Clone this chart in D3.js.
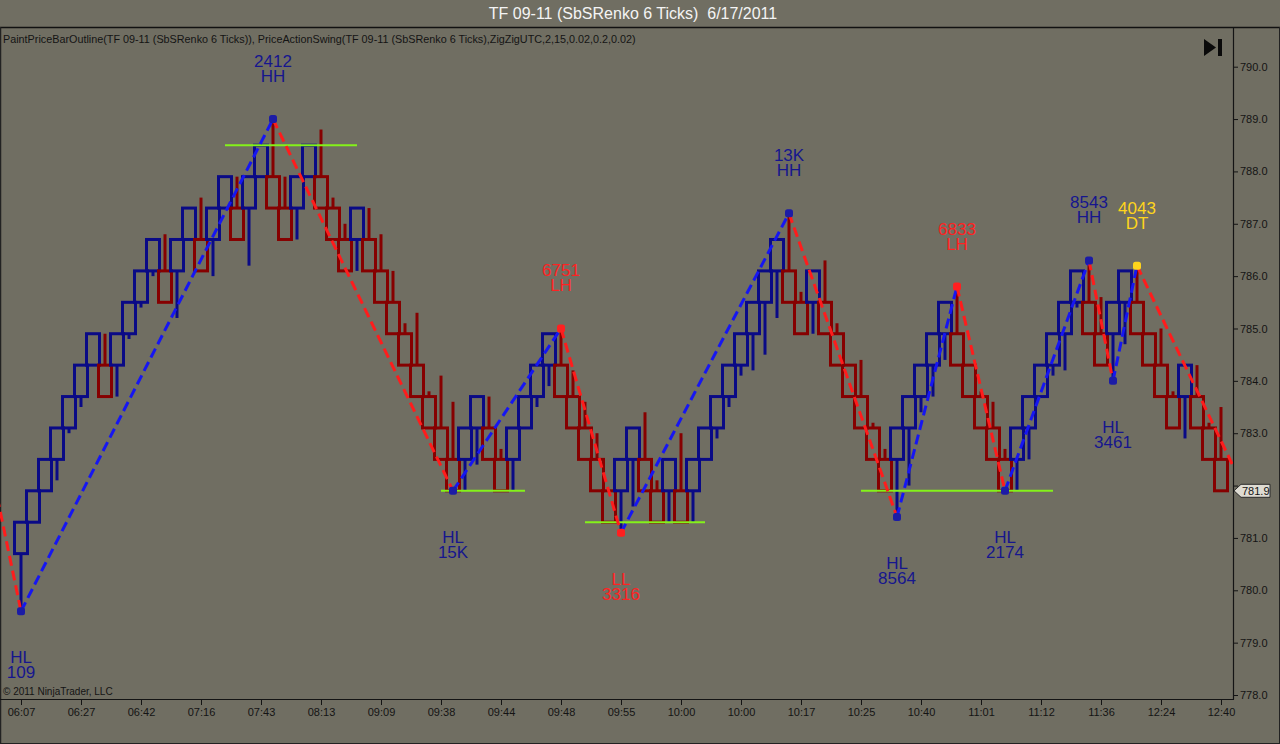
<!DOCTYPE html>
<html lang="en">
<head>
  <meta charset="UTF-8">
  <title>TF 09-11 (SbSRenko 6 Ticks)</title>
  <style>
    body {
      margin: 0;
      padding: 0;
      overflow: hidden;
      background: #706e62;
    }

    svg text {
      font-family: "Liberation Sans", Arial, sans-serif;
    }

    .axis text {
      font-size: 11px;
      fill: #141414;
    }

    .axis line {
      stroke: #141414;
    }

    .swing-label {
      font-size: 17px;
      text-anchor: middle;
    }
  </style>
</head>
<body>
  <svg id="chart"></svg>

  <script src="https://d3js.org/d3.v7.min.js"></script>
  <script>
    // time label every 5th bar
    const timeLabels = ["06:07", "06:27", "06:42", "07:16", "07:43", "08:13", "09:09", "09:38", "09:44", "09:48",
      "09:55", "10:00", "10:00", "10:17", "10:25", "10:40", "11:01", "11:12", "11:36", "12:24", "12:40"];

    // renko bars, one entry per bar (0..100)
    const opens = [
      780.7, 781.3, 781.9, 782.5, 783.1, 783.7, 784.3, 784.3, 784.3, 784.9,
      785.5, 786.1, 786.1, 786.1, 786.7, 786.7, 786.7, 787.3, 787.3, 787.3,
      787.9, 787.9, 787.3, 787.3, 787.9, 787.9, 787.3, 786.7, 786.7, 786.7,
      786.1, 785.5, 784.9, 784.3, 783.7, 783.1, 782.5, 782.5, 783.1, 783.1,
      782.5, 782.5, 783.1, 783.7, 784.3, 784.3, 783.7, 783.1, 782.5, 781.9,
      781.9, 782.5, 782.5, 781.9, 781.9, 781.9, 781.9, 782.5, 783.1, 783.7,
      784.3, 784.9, 785.5, 786.1, 786.1, 785.5, 785.5, 785.5, 784.9, 784.3,
      783.7, 783.1, 782.5, 782.5, 783.1, 783.7, 784.3, 784.9, 784.9, 784.3,
      783.7, 783.1, 782.5, 782.5, 783.1, 783.7, 784.3, 784.9, 785.5, 785.5,
      784.9, 784.9, 785.5, 785.5, 784.9, 784.3, 783.7, 783.7, 783.7, 783.1,
      782.5];
    const closes = [
      781.3, 781.9, 782.5, 783.1, 783.7, 784.3, 784.9, 783.7, 784.9, 785.5,
      786.1, 786.7, 785.5, 786.7, 787.3, 786.1, 787.3, 787.9, 786.7, 787.9,
      788.5, 787.3, 786.7, 787.9, 788.5, 787.3, 786.7, 786.1, 787.3, 786.1,
      785.5, 784.9, 784.3, 783.7, 783.1, 782.5, 781.9, 783.1, 783.7, 782.5,
      781.9, 783.1, 783.7, 784.3, 784.9, 783.7, 783.1, 782.5, 781.9, 781.3,
      782.5, 783.1, 781.9, 781.3, 782.5, 781.3, 782.5, 783.1, 783.7, 784.3,
      784.9, 785.5, 786.1, 786.7, 785.5, 784.9, 786.1, 784.9, 784.3, 783.7,
      783.1, 782.5, 781.9, 783.1, 783.7, 784.3, 784.9, 785.5, 784.3, 783.7,
      783.1, 782.5, 781.9, 783.1, 783.7, 784.3, 784.9, 785.5, 786.1, 784.9,
      784.3, 785.5, 786.1, 784.9, 784.3, 783.7, 783.1, 784.3, 783.1, 782.5,
      781.9];
    const highs = [
      781.3, 781.9, 782.5, 783.1, 783.7, 784.3, 784.9, 784.9, 784.9, 785.5,
      786.1, 786.7, 786.8, 786.7, 787.3, 787.5, 787.3, 787.9, 787.9, 787.9,
      788.5, 789.0, 787.9, 787.9, 788.5, 788.8, 787.5, 787.0, 787.3, 787.3,
      786.8, 786.1, 785.1, 785.3, 783.8, 784.1, 783.6, 783.1, 783.7, 783.7,
      782.7, 783.1, 783.7, 784.3, 784.9, 785.0, 784.2, 783.6, 783.0, 781.9,
      782.5, 783.1, 783.4, 782.1, 782.5, 783.0, 782.5, 783.1, 783.7, 784.3,
      784.9, 785.5, 786.1, 786.7, 787.2, 785.7, 786.1, 786.3, 785.1, 784.3,
      784.4, 783.2, 782.7, 783.1, 783.7, 784.3, 784.9, 785.5, 785.8, 784.3,
      783.8, 783.6, 782.7, 783.1, 783.7, 784.3, 784.9, 785.5, 786.1, 786.3,
      785.6, 785.5, 786.1, 786.2, 784.9, 785.0, 783.8, 784.3, 784.3, 783.2,
      783.5];
    const lows = [
      779.6, 781.3, 781.9, 782.1, 783.0, 783.5, 784.3, 783.7, 783.7, 784.8,
      785.4, 786.0, 785.5, 785.2, 786.7, 786.1, 786.0, 787.3, 786.7, 786.2,
      787.9, 787.3, 786.7, 786.7, 787.9, 787.3, 786.7, 786.1, 786.1, 786.1,
      785.5, 784.9, 784.3, 783.7, 783.1, 782.5, 781.9, 781.9, 782.4, 782.5,
      781.9, 781.9, 783.1, 783.5, 783.9, 783.7, 783.1, 782.5, 781.9, 781.3,
      781.1, 781.6, 781.9, 781.3, 781.3, 781.3, 781.3, 782.5, 782.9, 783.5,
      784.1, 784.2, 784.5, 785.2, 785.5, 784.9, 784.9, 784.9, 784.3, 783.7,
      783.1, 782.5, 781.9, 781.4, 782.0, 783.4, 783.7, 784.4, 784.3, 783.7,
      783.1, 782.5, 781.9, 781.9, 782.5, 783.7, 784.1, 784.2, 785.4, 784.9,
      784.3, 784.0, 784.7, 784.9, 784.3, 783.7, 783.1, 782.9, 783.1, 782.5,
      781.9];

    // PriceActionSwing zigzag points (first and last lie outside the visible bars)
    const swingBars = [-3, 0, 21, 36, 45, 50, 64, 73, 78, 82, 89, 91, 93, 102];
    const swingPrices = [782.9, 779.6, 789.0, 781.9, 785.0, 781.1, 787.2, 781.4, 785.8, 781.9, 786.3, 784.0, 786.2, 781.9];
    const swingKinds = ["", "HL", "HH", "HL", "LH", "LL", "HH", "HL", "LH", "HL", "HH", "HL", "DT", ""];
    const swingVolumes = ["", "109", "2412", "15K", "6751", "3316", "13K", "8564", "6833", "2174", "8543", "3461", "4043", ""];

    // double top / bottom lines
    const zoneFrom = [17, 35, 47, 70];
    const zoneTo = [28, 42, 57, 86];
    const zonePrices = [788.5, 781.9, 781.3, 781.9];

    // 782.0 sits under the last-price marker, so it gets a tick but no label
    const priceTicks = [778, 779, 780, 781, 782, 783, 784, 785, 786, 787, 788, 789, 790];

    const width = 1280, height = 744;
    const plotLeft = 0, plotRight = 1233, plotTop = 28, plotBottom = 699;

    const upColor = "#0a0a86", downColor = "#860000";
    const kindColor = {
      HH: "#16168e", HL: "#16168e", LH: "#ff2222", LL: "#ff2222", DT: "#ffd51c"
    };
    const dotColor = {
      HH: "#1c1ca6", HL: "#1c1ca6", LH: "#ff2020", LL: "#ff2020", DT: "#ffd51c"
    };

    const svg = d3.select("#chart").attr("width", width).attr("height", height);

    svg.append("rect").attr("width", width).attr("height", height).attr("fill", "#706e62");

    const x = d3.scaleLinear().domain([0, 100]).range([21, 1221]);
    const y = d3.scaleLinear().domain([778, 790]).range([695, 66.7]);

    svg.append("defs").append("clipPath").attr("id", "plot-clip")
      .append("rect")
      .attr("x", plotLeft).attr("y", plotTop)
      .attr("width", plotRight - plotLeft).attr("height", plotBottom - plotTop);

    // title and frame
    svg.append("text")
      .attr("x", 633).attr("y", 19)
      .attr("text-anchor", "middle")
      .attr("font-size", 16)
      .attr("fill", "#f4f4f4")
      .style("white-space", "pre")
      .text("TF 09-11 (SbSRenko 6 Ticks)  6/17/2011");

    svg.append("line").attr("x1", 0).attr("x2", width).attr("y1", 27.5).attr("y2", 27.5)
      .attr("stroke", "#111").attr("stroke-width", 1.5);
    svg.append("line").attr("x1", 0.5).attr("x2", 0.5).attr("y1", 27).attr("y2", height)
      .attr("stroke", "#222").attr("stroke-width", 1.5);
    svg.append("line").attr("x1", 0).attr("x2", width).attr("y1", 743.5).attr("y2", 743.5)
      .attr("stroke", "#222").attr("stroke-width", 1);
    svg.append("line").attr("x1", 1279.5).attr("x2", 1279.5).attr("y1", 27).attr("y2", height)
      .attr("stroke", "#222").attr("stroke-width", 1);

    // axes
    svg.append("g")
      .attr("class", "axis")
      .attr("transform", `translate(${plotRight},0)`)
      .call(d3.axisRight(y).tickValues(priceTicks).tickFormat(d => d === 782 ? "" : d3.format(".1f")(d)).tickSize(5).tickPadding(2))
      .call(g => g.select(".domain").remove());

    svg.append("g")
      .attr("class", "axis")
      .attr("transform", `translate(0,${plotBottom})`)
      .call(d3.axisBottom(x).tickValues(d3.range(0, 101, 5)).tickFormat(i => timeLabels[i / 5]).tickSize(6).tickPadding(3))
      .call(g => g.select(".domain").remove());

    svg.append("line").attr("x1", plotRight + 0.5).attr("x2", plotRight + 0.5)
      .attr("y1", plotTop).attr("y2", plotBottom + 0.5)
      .attr("stroke", "#141414").attr("stroke-width", 1.2);
    svg.append("line").attr("x1", 0).attr("x2", plotRight + 1)
      .attr("y1", plotBottom + 0.5).attr("y2", plotBottom + 0.5)
      .attr("stroke", "#141414").attr("stroke-width", 1.2);

    svg.append("text")
      .attr("x", 3).attr("y", 43)
      .attr("font-size", 10.8)
      .attr("fill", "#141414")
      .text("PaintPriceBarOutline(TF 09-11 (SbSRenko 6 Ticks)), PriceActionSwing(TF 09-11 (SbSRenko 6 Ticks),ZigZigUTC,2,15,0.02,0.2,0.02)");

    svg.append("text")
      .attr("x", 3).attr("y", 695)
      .attr("font-size", 10)
      .attr("fill", "#141414")
      .text("\u00a9 2011 NinjaTrader, LLC");

    // scroll-to-end glyph
    svg.append("path").attr("d", "M1204,39L1216,47.5L1204,56Z").attr("fill", "#0a0a0a");
    svg.append("rect").attr("x", 1218).attr("y", 39).attr("width", 4).attr("height", 17).attr("fill", "#0a0a0a");

    const plot = svg.append("g").attr("clip-path", "url(#plot-clip)");

    // renko bars, outline only
    const bars = plot.append("g").selectAll("g")
      .data(d3.range(opens.length))
      .enter()
      .append("g")
      .attr("stroke", i => closes[i] > opens[i] ? upColor : downColor)
      .attr("stroke-width", 3)
      .attr("fill", "none");

    bars.append("line")
      .attr("x1", i => x(i)).attr("x2", i => x(i))
      .attr("y1", i => y(highs[i]))
      .attr("y2", i => y(Math.max(opens[i], closes[i])));

    bars.append("line")
      .attr("x1", i => x(i)).attr("x2", i => x(i))
      .attr("y1", i => y(Math.min(opens[i], closes[i])))
      .attr("y2", i => y(lows[i]));

    bars.append("rect")
      .attr("x", i => x(i) - 6.5)
      .attr("width", 13)
      .attr("y", i => y(Math.max(opens[i], closes[i])))
      .attr("height", i => y(Math.min(opens[i], closes[i])) - y(Math.max(opens[i], closes[i])));

    // double top / bottom lines
    plot.append("g").selectAll("line")
      .data(zonePrices)
      .enter()
      .append("line")
      .attr("x1", (d, i) => x(zoneFrom[i]))
      .attr("x2", (d, i) => x(zoneTo[i]))
      .attr("y1", d => y(d))
      .attr("y2", d => y(d))
      .attr("stroke", "#84f21a")
      .attr("stroke-width", 2);

    // zigzag
    plot.append("g").selectAll("line")
      .data(d3.range(swingBars.length - 1))
      .enter()
      .append("line")
      .attr("x1", i => x(swingBars[i]))
      .attr("y1", i => y(swingPrices[i]))
      .attr("x2", i => x(swingBars[i + 1]))
      .attr("y2", i => y(swingPrices[i + 1]))
      .attr("stroke", i => swingPrices[i + 1] > swingPrices[i] ? "#1616f2" : "#ff1c1c")
      .attr("stroke-width", 3)
      .attr("stroke-dasharray", "10,5");

    const marked = d3.range(swingBars.length).filter(i => swingKinds[i] !== "");

    plot.append("g").selectAll("rect")
      .data(marked)
      .enter()
      .append("rect")
      .attr("x", i => x(swingBars[i]) - 4)
      .attr("y", i => y(swingPrices[i]) - 4)
      .attr("width", 8)
      .attr("height", 8)
      .attr("rx", 2.5)
      .attr("fill", i => dotColor[swingKinds[i]]);

    // swing labels: highs put the volume above the kind, lows the other way round
    const labels = svg.append("g").selectAll("text")
      .data(marked)
      .enter()
      .append("text")
      .attr("class", "swing-label")
      .attr("fill", i => kindColor[swingKinds[i]]);

    labels.each(function (i) {
      const label = d3.select(this);
      const px = x(swingBars[i]);
      const py = y(swingPrices[i]);
      const isHigh = swingPrices[i] > swingPrices[i - 1];
      const lines = isHigh ? [swingVolumes[i], swingKinds[i]] : [swingKinds[i], swingVolumes[i]];
      label.attr("x", px).attr("y", isHigh ? py - 52 : py + 52);
      lines.forEach((t, k) => {
        label.append("tspan")
          .attr("x", px)
          .attr("dy", k === 0 ? 0 : 15)
          .text(t);
      });
    });

    // last price marker
    const lastY = y(closes[closes.length - 1]);
    svg.append("path")
      .attr("d", `M${plotRight + 1},${lastY}L${plotRight + 8},${lastY - 6.5}L1270,${lastY - 6.5}L1270,${lastY + 6.5}L${plotRight + 8},${lastY + 6.5}Z`)
      .attr("fill", "#dedbd2")
      .attr("stroke", "#2a2a2a")
      .attr("stroke-width", 1);
    svg.append("text")
      .attr("x", plotRight + 9).attr("y", lastY + 4)
      .attr("font-size", 11)
      .attr("fill", "#141414")
      .text(d3.format(".1f")(closes[closes.length - 1]));
  </script>
</body>
</html>
